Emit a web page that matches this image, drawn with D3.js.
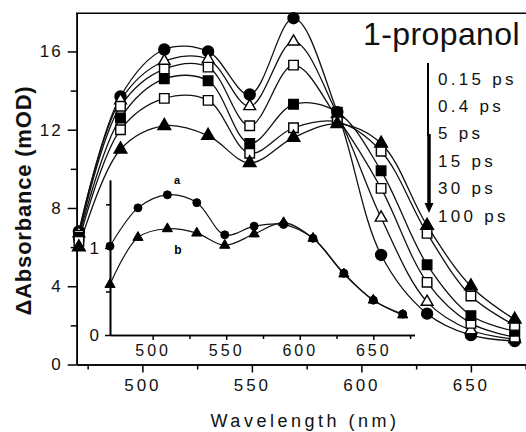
<!DOCTYPE html>
<html>
<head>
<meta charset="utf-8">
<script src="https://cdn.jsdelivr.net/npm/d3@7"></script>
<style>
body { margin: 0; background: #fff; }
svg { display: block; font-family: "Liberation Sans", Arial, sans-serif; }
</style>
</head>
<body>
<svg width="526" height="432"></svg>
<script>
// main panel data (mOD)
var wavelengths = [471, 490, 510, 530, 549, 569, 589, 609, 630, 650, 670];
var s015 = [6.8, 13.7, 16.1, 16.0, 13.8, 17.7, 12.9, 5.6, 2.6, 1.5, 1.2];
var s04  = [6.7, 13.5, 15.5, 15.6, 13.2, 16.5, 12.8, 7.5, 3.2, 1.75, 1.3];
var s5   = [6.6, 13.2, 15.1, 15.2, 12.2, 15.3, 12.6, 9.0, 4.2, 2.1, 1.4];
var s15  = [6.5, 12.6, 14.6, 14.5, 11.3, 13.3, 12.9, 9.9, 5.1, 2.5, 1.7];
var s30  = [6.3, 12.0, 13.6, 13.5, 10.8, 12.1, 12.4, 10.9, 6.7, 3.5, 2.0];
var s100 = [6.0, 11.0, 12.2, 11.7, 10.3, 11.6, 12.3, 11.3, 7.1, 4.0, 2.3];
var delays = ['0.15 ps', '0.4 ps', '5 ps', '15 ps', '30 ps', '100 ps'];

// inset data
var insetWl = [471, 490, 510, 530, 549, 569, 589, 609, 630, 650, 670];
var insetA  = [1.02, 1.46, 1.61, 1.52, 1.15, 1.25, 1.27, 1.11, 0.71, 0.40, 0.24];
var insetB  = [0.58, 1.12, 1.22, 1.17, 1.03, 1.16, 1.29, 1.11, 0.70, 0.40, 0.23];

var xTicks = [500, 550, 600, 650], xMinor = [475, 525, 575, 625, 675];
var yTicks = [0, 4, 8, 12, 16], yMinor = [2, 6, 10, 14];
var ixTicks = [500, 550, 600, 650], ixMinor = [525, 575, 625, 675];
var iyTicks = [0, 1], iyMinor = [0.5, 1.5];

var svg = d3.select('svg');
svg.append('rect').attr('width', 526).attr('height', 432).attr('fill', '#fff');

var x = d3.scaleLinear().domain([470, 680]).range([76.7, 536.6]);
var y = d3.scaleLinear().domain([0, 17.95]).range([364.5, 13.3]);
var ix = d3.scaleLinear().domain([471, 678]).range([110, 414.5]);
var iy = d3.scaleLinear().domain([0, 1.78]).range([335, 180]);

function styleAxis(g, fs, ls) {
	g.select('.domain').attr('stroke', '#000').attr('stroke-width', 1.6);
	g.selectAll('.tick line').attr('stroke', '#000').attr('stroke-width', 1.5);
	g.selectAll('.tick text').attr('fill', '#111').attr('font-size', fs).attr('letter-spacing', ls);
}

// main axes
var gx = svg.append('g').attr('transform', 'translate(0,364.5)')
	.call(d3.axisBottom(x).tickValues(xTicks).tickSize(8).tickSizeOuter(0).tickPadding(6.5).tickFormat(d3.format('d')));
styleAxis(gx, 17, 3);
var gxm = svg.append('g').attr('transform', 'translate(0,364.5)')
	.call(d3.axisBottom(x).tickValues(xMinor).tickSize(5).tickSizeOuter(0).tickFormat(''));
styleAxis(gxm, 17, 0);

var gy = svg.append('g').attr('transform', 'translate(76.7,0)')
	.call(d3.axisLeft(y).tickValues(yTicks).tickSize(9).tickSizeOuter(0).tickPadding(5));
styleAxis(gy, 17, 2);
var gym = svg.append('g').attr('transform', 'translate(76.7,0)')
	.call(d3.axisLeft(y).tickValues(yMinor).tickSize(6).tickSizeOuter(0).tickFormat(''));
styleAxis(gym, 17, 0);

// top frame
svg.append('line').attr('x1', 76).attr('x2', 526).attr('y1', 13.3).attr('y2', 13.3)
	.attr('stroke', '#000').attr('stroke-width', 1.6);

// inset axes
var gix = svg.append('g').attr('transform', 'translate(0,335)')
	.call(d3.axisBottom(ix).tickValues(ixTicks).tickSize(5).tickSizeOuter(0).tickPadding(5).tickFormat(d3.format('d')));
styleAxis(gix, 16, 3);
var gixm = svg.append('g').attr('transform', 'translate(0,335)')
	.call(d3.axisBottom(ix).tickValues(ixMinor).tickSize(4).tickSizeOuter(0).tickFormat(''));
styleAxis(gixm, 16, 0);
var giy = svg.append('g').attr('transform', 'translate(110,0)')
	.call(d3.axisLeft(iy).tickValues(iyTicks).tickSize(5).tickSizeOuter(0).tickPadding(4).tickFormat(d3.format('d')));
styleAxis(giy, 17, 2);
var giym = svg.append('g').attr('transform', 'translate(110,0)')
	.call(d3.axisLeft(iy).tickValues(iyMinor).tickSize(4).tickSizeOuter(0).tickFormat(''));
styleAxis(giym, 17, 0);

// main series
var series = [
	{ name: delays[0], values: s015, shape: d3.symbolCircle,   size: 95,  fill: '#000' },
	{ name: delays[1], values: s04,  shape: d3.symbolTriangle, size: 60,  fill: '#fff' },
	{ name: delays[2], values: s5,   shape: d3.symbolSquare,   size: 90,  fill: '#fff' },
	{ name: delays[3], values: s15,  shape: d3.symbolSquare,   size: 90,  fill: '#000' },
	{ name: delays[4], values: s30,  shape: d3.symbolSquare,   size: 90,  fill: '#fff' },
	{ name: delays[5], values: s100, shape: d3.symbolTriangle, size: 70,  fill: '#000' }
];

var line = d3.line()
	.x(function(d, i) { return x(wavelengths[i]); })
	.y(function(d) { return y(d); })
	.curve(d3.curveCatmullRom);

svg.append('g').selectAll('path.main')
	.data(series)
	.enter()
	.append('path')
	.attr('class', 'main')
	.attr('fill', 'none')
	.attr('stroke', '#111')
	.attr('stroke-width', 1.3)
	.attr('d', function(d) { return line(d.values); });

series.forEach(function(s) {
	svg.append('g').selectAll('path')
		.data(s.values)
		.enter()
		.append('path')
		.attr('transform', function(d, i) { return 'translate(' + x(wavelengths[i]) + ',' + y(d) + ')'; })
		.attr('d', d3.symbol().type(s.shape).size(s.size))
		.attr('fill', s.fill)
		.attr('stroke', '#000')
		.attr('stroke-width', 1.4);
});

// inset series
var insetLine = d3.line()
	.x(function(d, i) { return ix(insetWl[i]); })
	.y(function(d) { return iy(d); })
	.curve(d3.curveCatmullRom);

var insetSeries = [
	{ values: insetA, shape: d3.symbolCircle,   size: 50 },
	{ values: insetB, shape: d3.symbolTriangle, size: 45 }
];

insetSeries.forEach(function(s) {
	svg.append('path')
		.attr('fill', 'none')
		.attr('stroke', '#111')
		.attr('stroke-width', 1.2)
		.attr('d', insetLine(s.values));
});
insetSeries.forEach(function(s) {
	svg.append('g').selectAll('path')
		.data(s.values)
		.enter()
		.append('path')
		.attr('transform', function(d, i) { return 'translate(' + ix(insetWl[i]) + ',' + iy(d) + ')'; })
		.attr('d', d3.symbol().type(s.shape).size(s.size))
		.attr('fill', '#000')
		.attr('stroke', '#000')
		.attr('stroke-width', 1);
});

svg.append('text').attr('x', 177).attr('y', 184).attr('text-anchor', 'middle')
	.attr('font-size', 11).attr('font-weight', 'bold').text('a');
svg.append('text').attr('x', 178).attr('y', 254).attr('text-anchor', 'middle')
	.attr('font-size', 12).attr('font-weight', 'bold').text('b');

// solvent label and delay list
svg.append('text').attr('x', 363).attr('y', 45).attr('font-size', 32)
	.attr('letter-spacing', 0.4).attr('fill', '#111').text('1-propanol');

svg.append('g').selectAll('text')
	.data(delays)
	.enter()
	.append('text')
	.attr('x', 438)
	.attr('y', function(d, i) { return 84.5 + i * 27.4; })
	.attr('font-size', 17)
	.attr('letter-spacing', 3.3)
	.attr('fill', '#111')
	.text(function(d) { return d; });

// arrow
svg.append('line').attr('x1', 428).attr('x2', 428).attr('y1', 63).attr('y2', 136)
	.attr('stroke', '#000').attr('stroke-width', 2);
svg.append('line').attr('x1', 429).attr('x2', 429).attr('y1', 134).attr('y2', 206)
	.attr('stroke', '#000').attr('stroke-width', 3.5);
svg.append('path').attr('d', 'M424.5,203 L433.5,203 L429,213 Z').attr('fill', '#000');

// axis titles
svg.append('text')
	.attr('transform', 'translate(31,200.5) rotate(-90)')
	.attr('text-anchor', 'middle')
	.attr('font-size', 22)
	.attr('font-weight', 'bold')
	.attr('letter-spacing', 0.8)
	.attr('fill', '#111')
	.text('\u0394Absorbance (mOD)');

svg.append('text')
	.attr('x', 305).attr('y', 427)
	.attr('text-anchor', 'middle')
	.attr('font-size', 18)
	.attr('letter-spacing', 3.5)
	.attr('fill', '#111')
	.text('Wavelength (nm)');
</script>
</body>
</html>
